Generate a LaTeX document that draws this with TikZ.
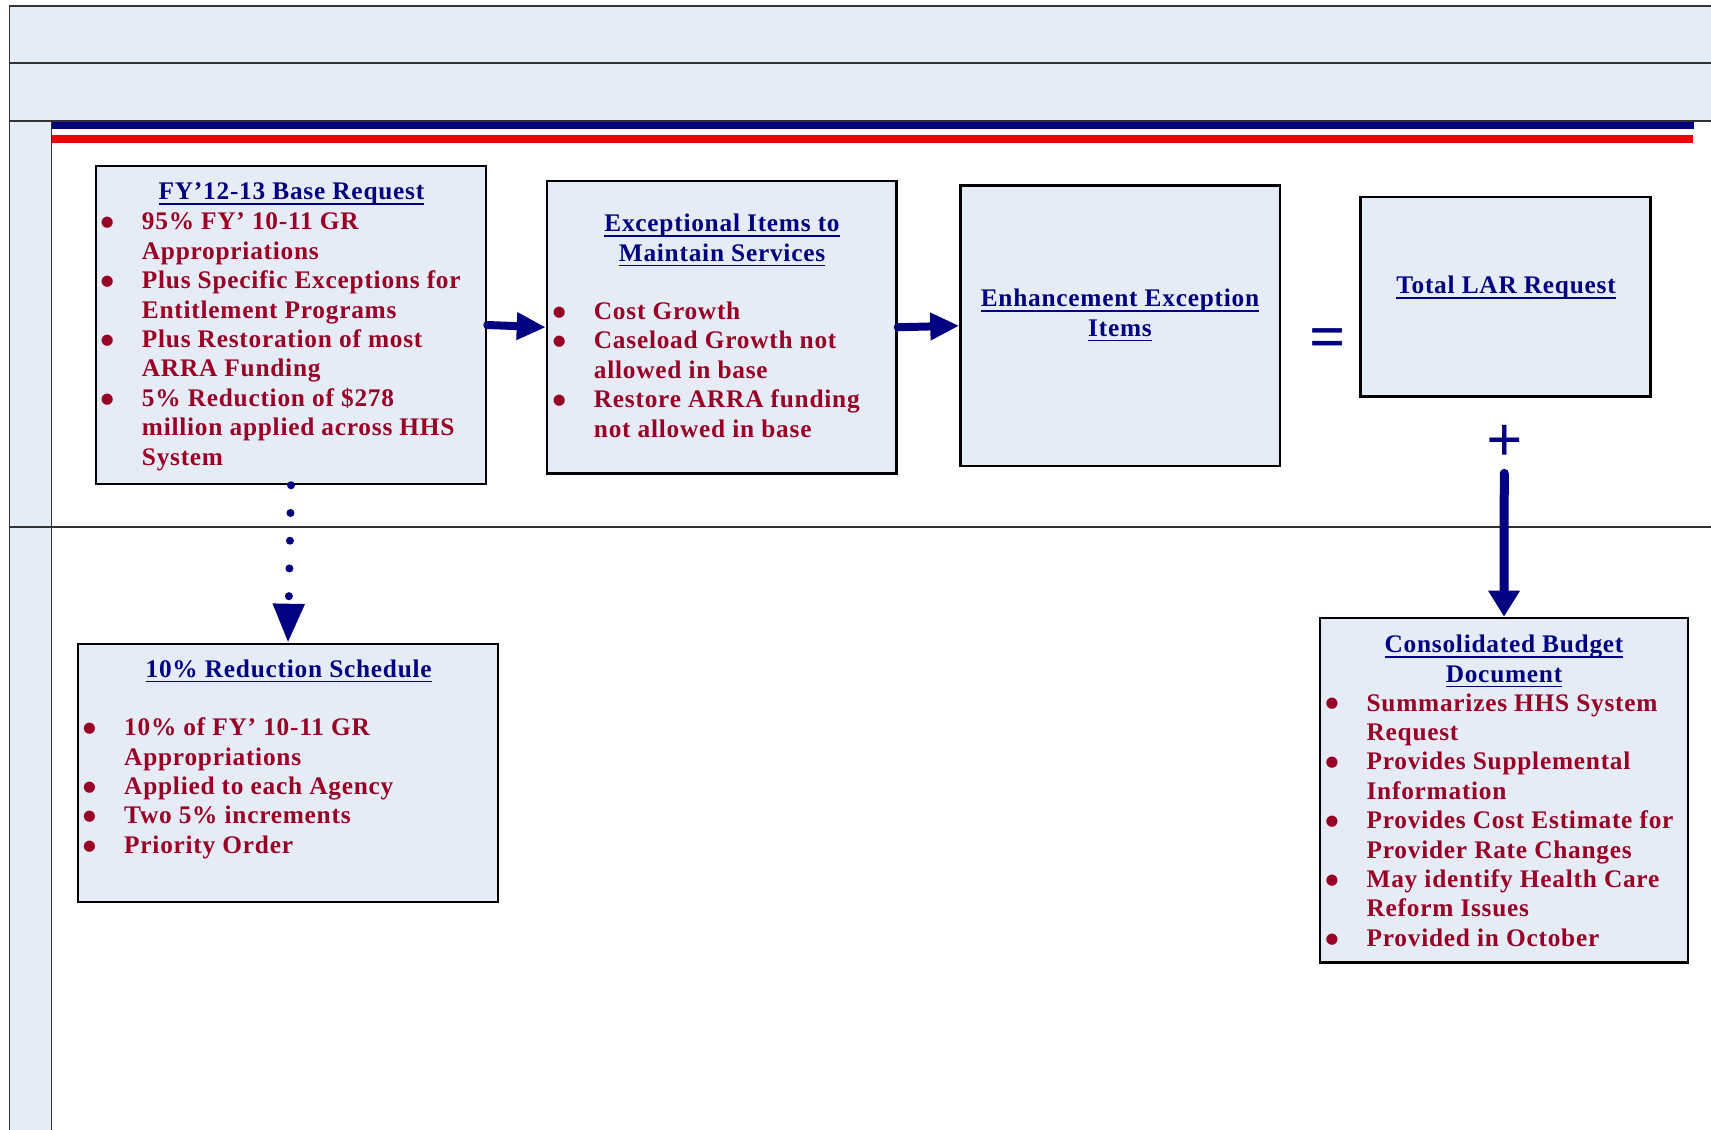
\documentclass[tikz,border=0pt]{standalone}
\usepackage{fontspec}
\setmainfont{Liberation Serif}
\newfontfamily\boxfont{Liberation Serif}[LetterSpace=3]
\newfontfamily\symfont{Liberation Serif}
\newfontfamily\bulfont{DejaVu Sans}
\usetikzlibrary{arrows.meta}

\definecolor{boxfill}{RGB}{230,236,246}
\definecolor{navy}{RGB}{0,0,128}
\definecolor{barred}{RGB}{240,0,0}
\definecolor{itemred}{RGB}{153,0,38}
\definecolor{frameline}{RGB}{50,50,50}

\newsavebox{\ulxbox}
\newcommand{\ulx}[1]{\sbox{\ulxbox}{#1}\rlap{\rule[-3.7pt]{\wd\ulxbox}{1.1pt}}\usebox{\ulxbox}}

% bullet marker followed by the hanging indent of the item text
\newcommand{\bmark}{\makebox[30.8pt][l]{\raisebox{2.3pt}{\bulfont\fontsize{11}{11}\selectfont ●}}}
\newcommand{\bskip}{\hspace*{30.8pt}}

\tikzset{
  frame/.style={draw=frameline, line width=1.2pt},
  box/.style={rectangle, draw=black, line width=1.9pt, fill=boxfill, inner sep=0pt},
  items/.style={anchor=base west, inner sep=0pt, text=itemred,
    font=\boxfont\bfseries\fontsize{19}{22.05}\selectfont},
  ttl/.style={anchor=base, inner sep=0pt, text=navy,
    font=\boxfont\bfseries\fontsize{19}{22.05}\selectfont},
  sym/.style={anchor=center, inner sep=0pt, text=navy,
    font=\symfont\bfseries\fontsize{48}{48}\selectfont},
  flow/.style={draw=navy, line width=6pt, line cap=round,
    -{Triangle[length=21.75pt,width=19.5pt]}},
  vflow/.style={draw=navy, line width=6.75pt, line cap=round,
    -{Triangle[length=19.5pt,width=22.5pt]}},
  dotflow/.style={draw=navy, line width=6pt, line cap=round,
    dash pattern=on 0pt off 20.8pt,
    -{Triangle[length=29.25pt,width=22.5pt]}}
}

\begin{document}
\begin{tikzpicture}[x=0.75pt,y=-0.75pt]
\useasboundingbox (0,0) rectangle (1711,1130);

% frame
\fill[boxfill] (9.5,6) rectangle (1720,121);
\fill[boxfill] (9.5,121) rectangle (51.5,1140);
\draw[frame] (1720,6) -- (9.5,6) -- (9.5,1140);
\draw[frame] (9.5,63) -- (1720,63);
\draw[frame] (9.5,121) -- (1720,121);
\draw[frame] (51.5,121) -- (51.5,1140);
\draw[frame] (9.5,527) -- (1720,527);

% coloured rules
\fill[navy] (51.5,121.7) rectangle (1694,129);
\fill[barred] (51.5,135) rectangle (1693,142.7);

% boxes
\node[box, minimum width=292.5pt, minimum height=238.5pt] (b1) at (291,325) {};
\node[box, minimum width=262.1pt, minimum height=219.4pt] (b2) at (721.75,327.25) {};
\node[box, minimum width=239.6pt, minimum height=210.4pt] (b3) at (1120.25,325.75) {};
\node[box, minimum width=217.5pt, minimum height=149.6pt] (b4) at (1505.5,296.75) {};
\node[box, minimum width=315pt, minimum height=193.5pt] (b5) at (288,773) {};
\node[box, minimum width=276pt, minimum height=258.4pt] (b6) at (1504,790.25) {};

% titles
\node[ttl] (t1) at (291.5,200) {\ulx{FY’12-13 Base Request}};
\node[ttl] (t2) at (722,231.7) {\begin{tabular}[t]{@{}c@{}}\ulx{Exceptional Items to}\\ \ulx{Maintain Services}\end{tabular}};
\node[ttl] (t3) at (1120,307) {\begin{tabular}[t]{@{}c@{}}\ulx{Enhancement Exception}\\ \ulx{Items}\end{tabular}};
\node[ttl] (t4) at (1506,294) {\ulx{Total LAR Request}};
\node[ttl] (t5) at (288.7,677.3) {\ulx{10\% Reduction Schedule}};
\node[ttl] (t6) at (1504,652.7) {\begin{tabular}[t]{@{}c@{}}\ulx{Consolidated Budget}\\ \ulx{Document}\end{tabular}};

% bullet lists
\node[items] (l1) at (100.6,230) {\begin{tabular}[t]{@{}l@{}}
\bmark 95\% FY’ 10-11 GR\\
\bskip Appropriations\\
\bmark Plus Specific Exceptions for\\
\bskip Entitlement Programs\\
\bmark Plus Restoration of most\\
\bskip ARRA Funding\\
\bmark 5\% Reduction of \$278\\
\bskip million applied across HHS\\
\bskip System
\end{tabular}};

\node[items] (l2) at (552.6,319.5) {\begin{tabular}[t]{@{}l@{}}
\bmark Cost Growth\\
\bmark Caseload Growth not\\
\bskip allowed in base\\
\bmark Restore ARRA funding\\
\bskip not allowed in base
\end{tabular}};

\node[items] (l5) at (82.9,735.7) {\begin{tabular}[t]{@{}l@{}}
\bmark 10\% of FY’ 10-11 GR\\
\bskip Appropriations\\
\bmark Applied to each Agency\\
\bmark Two 5\% increments\\
\bmark Priority Order
\end{tabular}};

\node[items] (l6) at (1325.3,711) {\begin{tabular}[t]{@{}l@{}}
\bmark Summarizes HHS System\\
\bskip Request\\
\bmark Provides Supplemental\\
\bskip Information\\
\bmark Provides Cost Estimate for\\
\bskip Provider Rate Changes\\
\bmark May identify Health Care\\
\bskip Reform Issues\\
\bmark Provided in October
\end{tabular}};

% symbols
\node[sym] (eq) at (1327.4,343.5) {=};
\node[sym] (plus) at (1504.3,443) {+};

% connectors
\draw[flow] (b1.east) -- (b2.west);
\draw[flow] (b2.east) -- (b3.west);
\draw[dotflow] (b1.south) -- (b5.north);
\draw[vflow, shorten <=9pt] (plus.south) -- (b6.north);
\end{tikzpicture}
\end{document}
